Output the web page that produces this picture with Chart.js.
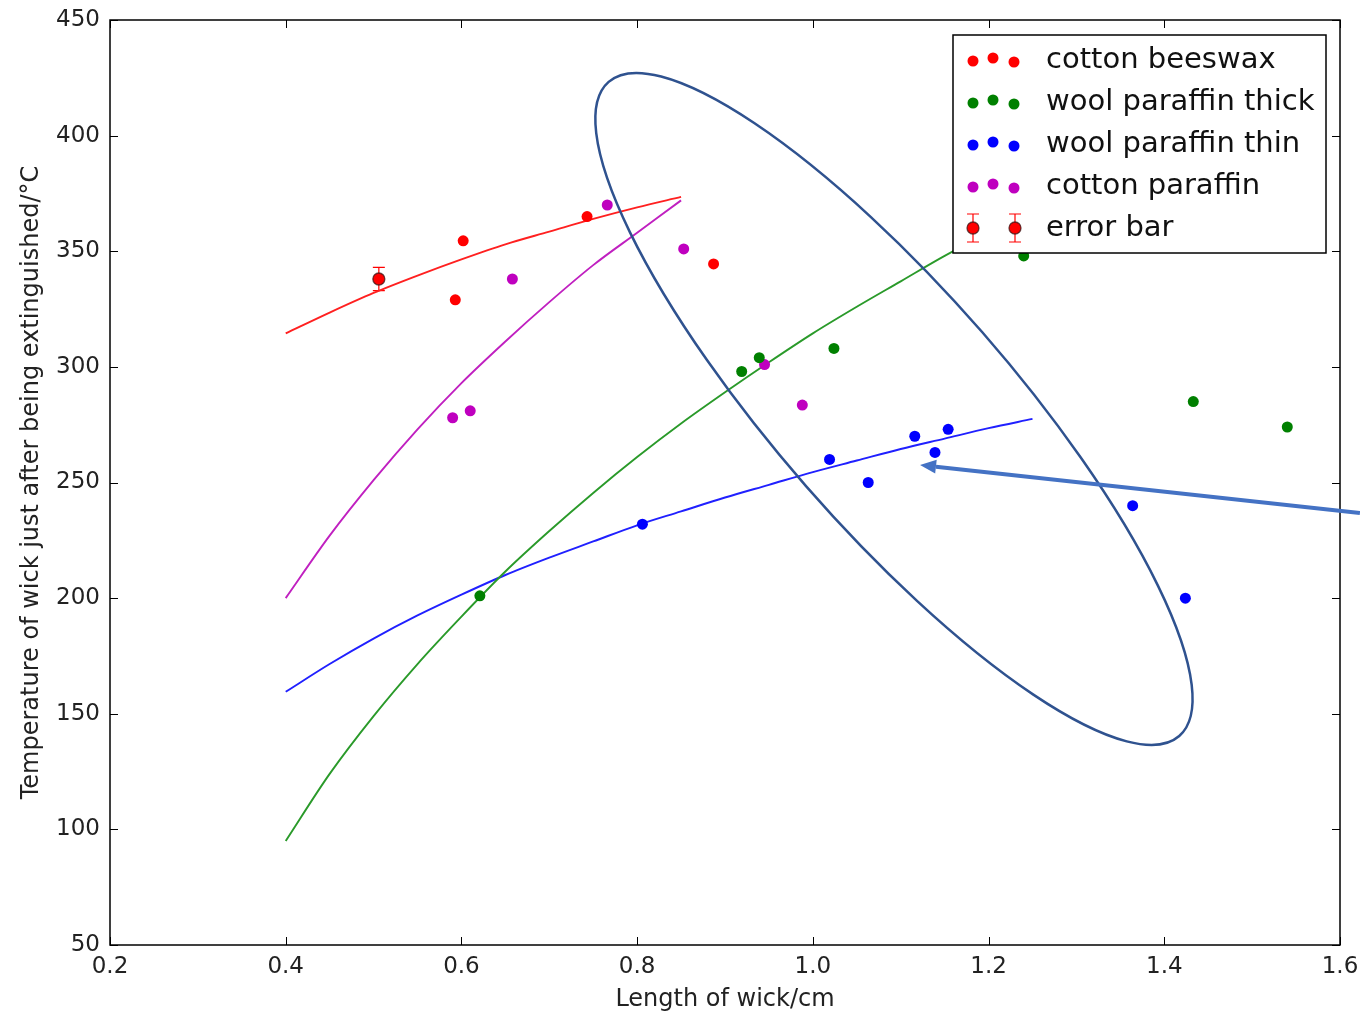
<!DOCTYPE html>
<html>
<head>
<meta charset="utf-8">
<title>Temperatura de la mecha</title>
<script src="https://cdn.jsdelivr.net/npm/chart.js@4/dist/chart.umd.min.js"></script>
<style>
  html, body { margin: 0; padding: 0; background: #fff; }
  #contenedor { width: 1360px; height: 1014px; }
</style>
</head>
<body>
<div id="contenedor"><canvas id="grafico" width="1360" height="1014"></canvas></div>
<script>
// Puntos medidos (longitud de mecha en cm, temperatura en °C)
const beeswaxX = [0.593, 0.602, 0.743, 0.887];
const beeswaxY = [329, 354.5, 365, 344.5];

const thickX = [0.621, 0.919, 0.939, 1.024, 1.240, 1.433, 1.540];
const thickY = [201, 298, 304, 308, 348, 285, 274];

const thinX = [0.806, 1.019, 1.063, 1.116, 1.139, 1.154, 1.364, 1.424];
const thinY = [232, 260, 250, 270, 263, 273, 240, 200];

const paraffinX = [0.590, 0.610, 0.658, 0.766, 0.853, 0.945, 0.988];
const paraffinY = [278, 281, 338, 370, 351, 301, 283.5];

// Punto con barra de error
const errX = [0.506];
const errY = [338];
const errDelta = [5];

// Curvas de ajuste
const fitShortX = [0.40, 0.45, 0.50, 0.55, 0.60, 0.65, 0.70, 0.75, 0.80, 0.85];
const beeswaxFit = [314.5, 323.5, 332, 339.5, 346.5, 353, 358.5, 364, 369, 373.5];
const paraffinFit = [200, 227, 251, 273, 293, 311, 328, 344, 358, 372];

const fitLongX = [0.40, 0.45, 0.50, 0.55, 0.60, 0.65, 0.70, 0.75, 0.80, 0.85,
                  0.90, 0.95, 1.00, 1.05, 1.10, 1.15, 1.20, 1.25];
const thickFit = [95, 124, 149, 171.5, 192, 211.5, 229, 245.5, 261, 275.5,
                  289, 302, 314.5, 326, 337, 348, 358, 368];
const thinFit = [159.5, 171.5, 182.5, 192.5, 201.5, 210, 217.5, 224.5, 231.5, 237.5,
                 243.5, 249, 254.5, 259.5, 264.5, 269, 273.5, 277.5];

const xTitle = "Length of wick/cm";
const yTitle = "Temperature of wick just after being extinguished/°C";

const fuente = "'DejaVu Sans', Verdana, sans-serif";

function pares(xs, ys) {
  return xs.map((x, i) => ({ x: x, y: ys[i] }));
}

// Anotaciones (elipse y flecha), centro en unidades de datos
const elipse = { x: 1.0923, y: 281.8, rx: 434, ry: 117, rot: 48.9 };
const flecha = { x1: 1.6227, y1: 236.8, x2: 1.122, y2: 257.6 };

// Barra de error debajo del marcador
const barraError = {
  id: "barraError",
  beforeDatasetsDraw(chart) {
    const { ctx, scales: { x, y } } = chart;
    ctx.save();
    ctx.strokeStyle = "#ff0000";
    ctx.lineWidth = 1.2;
    errX.forEach((v, i) => {
      const px = x.getPixelForValue(v);
      const top = y.getPixelForValue(errY[i] + errDelta[i]);
      const bot = y.getPixelForValue(errY[i] - errDelta[i]);
      ctx.beginPath();
      ctx.moveTo(px, top); ctx.lineTo(px, bot);
      ctx.moveTo(px - 6, top); ctx.lineTo(px + 6, top);
      ctx.moveTo(px - 6, bot); ctx.lineTo(px + 6, bot);
      ctx.stroke();
    });
    ctx.restore();
  }
};

// Marco y marcas hacia adentro (estilo matplotlib clásico)
const marco = {
  id: "marco",
  afterDatasetsDraw(chart) {
    const { ctx, chartArea: a, scales: { x, y } } = chart;
    ctx.save();
    ctx.strokeStyle = "#000";
    ctx.lineWidth = 1;
    const largo = 8;
    ctx.beginPath();
    x.ticks.forEach(t => {
      const px = Math.round(x.getPixelForValue(t.value)) + 0.5;
      ctx.moveTo(px, a.bottom); ctx.lineTo(px, a.bottom - largo);
      ctx.moveTo(px, a.top); ctx.lineTo(px, a.top + largo);
    });
    y.ticks.forEach(t => {
      const py = Math.round(y.getPixelForValue(t.value)) + 0.5;
      ctx.moveTo(a.left, py); ctx.lineTo(a.left + largo, py);
      ctx.moveTo(a.right, py); ctx.lineTo(a.right - largo, py);
    });
    ctx.stroke();
    ctx.lineWidth = 1.5;
    ctx.strokeRect(a.left, a.top, a.right - a.left, a.bottom - a.top);
    ctx.restore();
  }
};

// Leyenda dentro del área del gráfico, con fondo blanco
const leyenda = {
  id: "leyenda",
  afterDatasetsDraw(chart) {
    const { ctx, chartArea: a } = chart;
    const ancho = 373, alto = 218;
    const left = a.right - 14 - ancho;
    const top = a.top + 15;
    ctx.save();
    ctx.fillStyle = "#fff";
    ctx.fillRect(left, top, ancho, alto);
    ctx.strokeStyle = "#000";
    ctx.lineWidth = 1.5;
    ctx.strokeRect(left, top, ancho, alto);

    const filas = chart.data.datasets.filter(d => d.enLeyenda);
    const offs = [1, -2, 2];
    filas.forEach((d, i) => {
      const cy = top + 25 + i * 42;
      if (d.esError) {
        [left + 20, left + 62].forEach(cx => {
          ctx.strokeStyle = "#ff0000";
          ctx.lineWidth = 1.2;
          ctx.beginPath();
          ctx.moveTo(cx, cy - 14); ctx.lineTo(cx, cy + 14);
          ctx.moveTo(cx - 6, cy - 14); ctx.lineTo(cx + 6, cy - 14);
          ctx.moveTo(cx - 6, cy + 14); ctx.lineTo(cx + 6, cy + 14);
          ctx.stroke();
          ctx.beginPath();
          ctx.arc(cx, cy, 6, 0, Math.PI * 2);
          ctx.fillStyle = d.backgroundColor;
          ctx.fill();
          ctx.strokeStyle = d.borderColor;
          ctx.lineWidth = 1.3;
          ctx.stroke();
        });
      } else {
        [left + 20, left + 40, left + 61].forEach((cx, k) => {
          ctx.beginPath();
          ctx.arc(cx, cy + offs[k], 5.5, 0, Math.PI * 2);
          ctx.fillStyle = d.backgroundColor;
          ctx.fill();
        });
      }
      ctx.fillStyle = "#111";
      ctx.font = "29px " + fuente;
      ctx.textBaseline = "middle";
      ctx.textAlign = "left";
      ctx.fillText(d.label, left + 93, cy);
    });
    ctx.restore();
  }
};

// Elipse y flecha añadidas encima del gráfico
const anotaciones = {
  id: "anotaciones",
  afterDraw(chart) {
    const { ctx, scales: { x, y } } = chart;
    ctx.save();
    ctx.strokeStyle = "#2F528F";
    ctx.lineWidth = 2.5;
    ctx.beginPath();
    ctx.ellipse(x.getPixelForValue(elipse.x), y.getPixelForValue(elipse.y),
                elipse.rx, elipse.ry, elipse.rot * Math.PI / 180, 0, Math.PI * 2);
    ctx.stroke();

    const x1 = x.getPixelForValue(flecha.x1), y1 = y.getPixelForValue(flecha.y1);
    const x2 = x.getPixelForValue(flecha.x2), y2 = y.getPixelForValue(flecha.y2);
    const ang = Math.atan2(y2 - y1, x2 - x1);
    const punta = 16, medio = 7;
    const bx = x2 - punta * Math.cos(ang), by = y2 - punta * Math.sin(ang);
    ctx.strokeStyle = "#4472C4";
    ctx.fillStyle = "#4472C4";
    ctx.lineWidth = 4;
    ctx.beginPath();
    ctx.moveTo(x1, y1);
    ctx.lineTo(bx, by);
    ctx.stroke();
    ctx.beginPath();
    ctx.moveTo(x2, y2);
    ctx.lineTo(bx + medio * Math.sin(ang), by - medio * Math.cos(ang));
    ctx.lineTo(bx - medio * Math.sin(ang), by + medio * Math.cos(ang));
    ctx.closePath();
    ctx.fill();
    ctx.restore();
  }
};

function puntos(label, xs, ys, color) {
  return {
    type: "scatter", label: label, data: pares(xs, ys),
    backgroundColor: color, borderColor: color, borderWidth: 0,
    pointRadius: 5.5, pointHoverRadius: 5.5, order: 1, enLeyenda: true
  };
}

function curva(label, xs, ys, color) {
  return {
    type: "line", label: label, data: pares(xs, ys),
    borderColor: color, borderWidth: 1.9, pointRadius: 0,
    fill: false, cubicInterpolationMode: "monotone", order: 2
  };
}

const datasets = [
  puntos("cotton beeswax", beeswaxX, beeswaxY, "#ff0000"),
  puntos("wool paraffin thick", thickX, thickY, "#008000"),
  puntos("wool paraffin thin", thinX, thinY, "#0000ff"),
  puntos("cotton paraffin", paraffinX, paraffinY, "#bf00bf"),
  {
    type: "scatter", label: "error bar", data: pares(errX, errY),
    backgroundColor: "#ff0000", borderColor: "rgba(60,20,20,0.75)", borderWidth: 1.3,
    pointRadius: 6, order: 0, enLeyenda: true, esError: true
  },
  curva("ajuste beeswax", fitShortX, beeswaxFit, "#ff2020"),
  curva("ajuste thick", fitLongX, thickFit, "#2a9a2a"),
  curva("ajuste thin", fitLongX, thinFit, "#2020ff"),
  curva("ajuste paraffin", fitShortX, paraffinFit, "#c020c0")
];

new Chart(document.getElementById("grafico"), {
  type: "scatter",
  data: { datasets: datasets },
  options: {
    responsive: false,
    animation: false,
    layout: { padding: { top: 20, right: 20, left: 0, bottom: 0 } },
    plugins: { legend: { display: false }, tooltip: { enabled: false } },
    scales: {
      x: {
        type: "linear", min: 0.2, max: 1.6,
        afterFit: s => { s.height = 69; s.paddingLeft = 0; s.paddingRight = 0; },
        grid: { display: false, drawTicks: false },
        border: { display: false },
        ticks: {
          stepSize: 0.2, padding: 8, color: "#222",
          font: { family: fuente, size: 23 },
          callback: v => Number(v).toFixed(1)
        },
        title: {
          display: true, text: xTitle, color: "#222",
          font: { family: fuente, size: 24 }, padding: { top: 0, bottom: 0 }
        }
      },
      y: {
        type: "linear", min: 50, max: 450,
        afterFit: s => { s.width = 110; s.paddingTop = 0; s.paddingBottom = 0; },
        grid: { display: false, drawTicks: false },
        border: { display: false },
        ticks: {
          stepSize: 50, padding: 10, color: "#222",
          font: { family: fuente, size: 23 }
        },
        title: {
          display: true, text: yTitle, color: "#222",
          font: { family: fuente, size: 24 }, padding: { top: 17, bottom: 0 }
        }
      }
    }
  },
  plugins: [barraError, marco, leyenda, anotaciones]
});
</script>
</body>
</html>
